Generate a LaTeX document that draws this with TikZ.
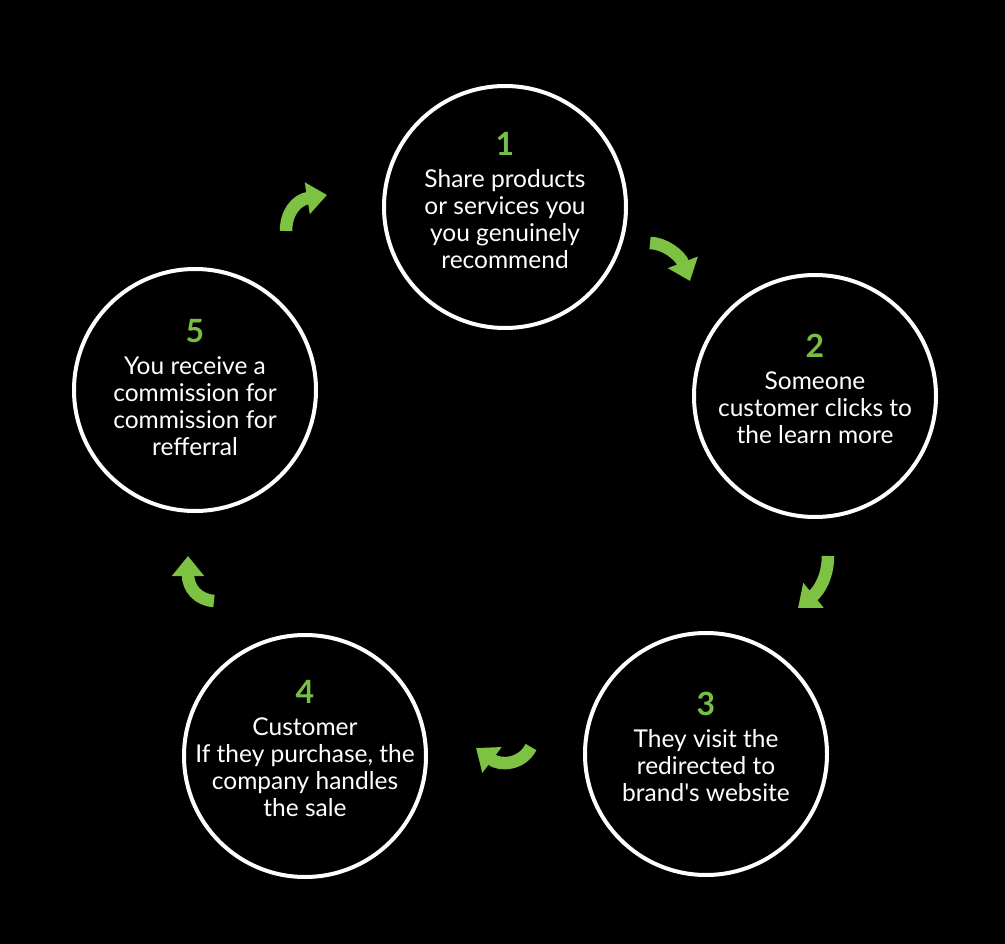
\documentclass[tikz,border=0pt]{standalone}
\usepackage{fontspec}
\setmainfont{Lato}[Ligatures=TeXOff]
\usetikzlibrary{arrows.meta}
\definecolor{arrgreen}{HTML}{7DC242}
\definecolor{numgreen}{HTML}{76BF43}
\tikzset{
  stepcircle/.style={circle, draw=white, line width=4pt, fill=black, minimum size=242pt, inner sep=0pt},
  steptext/.style={text=white, align=center, font=\fontsize{24.5}{27}\selectfont, inner sep=0pt},
  cyclearrow/.style={draw=arrgreen, line width=12.5pt, line cap=butt,
    -{Triangle[length=20pt,width=31pt]}},
}
\newcommand{\stepnum}[1]{{\fontsize{32}{27}\selectfont\bfseries\color{numgreen}#1}}
\begin{document}
\begin{tikzpicture}[x=1pt,y=-1pt]
\fill[black] (0,0) rectangle (1005,944);
\useasboundingbox (0,0) rectangle (1005,944);

\node[stepcircle] (c1) at (505,207) {};
\node[stepcircle] (c2) at (815,396) {};
\node[stepcircle] (c3) at (706,754) {};
\node[stepcircle] (c4) at (305,756) {};
\node[stepcircle] (c5) at (195,390) {};

\node[steptext, yshift=6pt] (t1) at (c1) {\stepnum{1}\\[5pt]Share products\\or services you\\you genuinely\\recommend};
\node[steptext, yshift=7pt] (t2) at (c2) {\stepnum{2}\\[5pt]Someone\\customer clicks to\\the learn more};
\node[steptext, yshift=7pt] (t3) at (c3) {\stepnum{3}\\[5pt]They visit the\\redirected to\\brand's website};
\node[steptext, yshift=7pt] (t4) at (c4) {\stepnum{4}\\[5pt]Customer\\If they purchase, the\\company handles\\the sale};
\node[steptext, yshift=2pt] (t5) at (c5) {\stepnum{5}\\[5pt]You receive a\\commission for\\commission for\\refferral};

% arrow end points
\coordinate (a1s) at (286,231);
\coordinate (a1e) at (327,195);
\coordinate (a2s) at (650,243);
\coordinate (a2e) at (690,281);
\coordinate (a3s) at (828,556);
\coordinate (a3e) at (798,608);
\coordinate (a4s) at (531,747);
\coordinate (a4e) at (476,748);
\coordinate (a5s) at (214,601);
\coordinate (a5e) at (188,556);

\draw[cyclearrow] (a1s) .. controls (286,213) and (296,200) .. (a1e);
\draw[cyclearrow] (a2s) .. controls (664,243) and (680,255) .. (a2e);
\draw[cyclearrow] (a3s) .. controls (828,575) and (820,590) .. (a3e);
\draw[cyclearrow] (a4s) .. controls (522,765) and (500,766) .. (a4e);
\draw[cyclearrow] (a5s) .. controls (198,600) and (188,588) .. (a5e);
\end{tikzpicture}
\end{document}
